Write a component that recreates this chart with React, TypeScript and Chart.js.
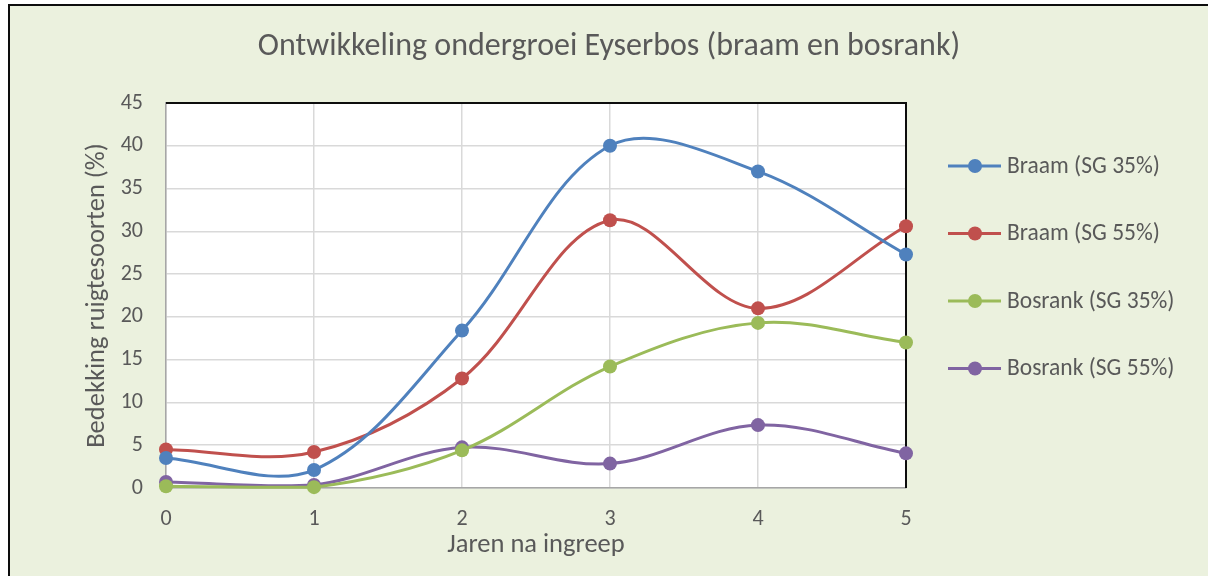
import React, { useEffect, useRef } from "react";
import { Chart, registerables } from "chart.js";

Chart.register(...registerables);

const years = [0, 1, 2, 3, 4, 5];
const seriesLabels = ["Braam (SG 35%)", "Braam (SG 55%)", "Bosrank (SG 35%)", "Bosrank (SG 55%)"];
const braam35 = [3.5, 2.1, 18.4, 40.0, 37.0, 27.3];
const braam55 = [4.5, 4.2, 12.8, 31.3, 21.0, 30.6];
const bosrank35 = [0.2, 0.1, 4.4, 14.2, 19.3, 17.0];
const bosrank55 = [0.7, 0.35, 4.75, 2.85, 7.35, 4.05];
const seriesColors = ["#4F81BD", "#C0504D", "#9BBB59", "#8064A2"];
const yTicks = [0, 5, 10, 15, 20, 25, 30, 35, 40, 45];

const FONT = "Calibri, Carlito, Lato, sans-serif";
const TEXT = "#595959";

const plotPlugin = {
  id: "plotDeco",
  beforeDraw(chart: any) {
    const { ctx, chartArea: a } = chart;
    ctx.save();
    ctx.fillStyle = "#FFFFFF";
    ctx.fillRect(a.left, a.top, a.right - a.left, a.bottom - a.top);
    ctx.restore();
  },
  beforeDatasetsDraw(chart: any) {
    const { ctx, chartArea: a } = chart;
    ctx.save();
    ctx.strokeStyle = "#0D0D0D";
    ctx.lineWidth = 2;
    ctx.beginPath();
    ctx.moveTo(a.left, a.top);
    ctx.lineTo(a.right, a.top);
    ctx.lineTo(a.right, a.bottom);
    ctx.stroke();
    ctx.restore();
  },
  afterDraw(chart: any) {
    const { ctx, chartArea: a } = chart;
    ctx.save();
    chart.data.datasets.forEach((ds: any, i: number) => {
      const y = a.top + 63 + i * 67.5;
      const x0 = a.right + 42;
      ctx.strokeStyle = ds.borderColor;
      ctx.lineWidth = 3;
      ctx.beginPath();
      ctx.moveTo(x0, y);
      ctx.lineTo(x0 + 53, y);
      ctx.stroke();
      ctx.fillStyle = ds.backgroundColor;
      ctx.beginPath();
      ctx.arc(x0 + 27, y, 7, 0, Math.PI * 2);
      ctx.fill();
      ctx.fillStyle = TEXT;
      ctx.font = `23.5px ${FONT}`;
      ctx.textBaseline = "middle";
      ctx.textAlign = "left";
      ctx.fillText(ds.label, x0 + 59, y + 1);
    });
    ctx.restore();
  },
};

export default function App() {
  const ref = useRef<HTMLCanvasElement | null>(null);
  useEffect(() => {
    if (!ref.current) return;
    const series = [braam35, braam55, bosrank35, bosrank55];
    const chart = new Chart(ref.current, {
      type: "line",
      data: {
        datasets: series.map((vals, i) => ({
          label: seriesLabels[i],
          data: vals.map((v, j) => ({ x: years[j], y: v })),
          borderColor: seriesColors[i],
          backgroundColor: seriesColors[i],
          pointBackgroundColor: seriesColors[i],
          pointBorderColor: seriesColors[i],
          pointRadius: 7,
          pointBorderWidth: 0,
          borderWidth: 3,
          tension: 0.35,
          clip: false as any,
        })),
      },
      options: {
        responsive: false,
        animation: false,
        devicePixelRatio: 1,
        layout: { padding: 0 },
        plugins: {
          legend: { display: false },
          tooltip: { enabled: false },
          title: {
            display: true,
            text: "Ontwikkeling ondergroei Eyserbos (braam en bosrank)",
            color: TEXT,
            font: { family: FONT, size: 32, weight: "normal" },
            padding: { top: 22, bottom: 36.6 },
          },
        },
        scales: {
          x: {
            type: "linear",
            min: 0,
            max: 5,
            afterBuildTicks: (s: any) => {
              s.ticks = years.map((v) => ({ value: v }));
            },
            afterFit: (s: any) => {
              s.height = 88;
            },
            grid: { color: "#D9D9D9", lineWidth: 1.5, drawTicks: false },
            border: { color: "#A6A6A6", width: 1.5 },
            ticks: { color: TEXT, font: { family: FONT, size: 22 }, padding: 18 },
            title: {
              display: true,
              text: "Jaren na ingreep",
              color: TEXT,
              font: { family: FONT, size: 26.5 },
              padding: { top: 0, bottom: 15 },
            },
          },
          y: {
            type: "linear",
            min: 0,
            max: 45,
            afterBuildTicks: (s: any) => {
              s.ticks = yTicks.map((v) => ({ value: v }));
            },
            afterFit: (s: any) => {
              s.width = 156;
            },
            grid: { color: "#D9D9D9", lineWidth: 1.5, drawTicks: false },
            border: { color: "#A6A6A6", width: 1.5 },
            ticks: { color: TEXT, font: { family: FONT, size: 22 }, padding: 23 },
            title: {
              display: true,
              text: "Bedekking ruigtesoorten (%)",
              color: TEXT,
              font: { family: FONT, size: 26.5 },
              padding: { top: 71.6, bottom: 0 },
            },
          },
          yR: {
            type: "linear",
            position: "right",
            display: true,
            afterFit: (s: any) => {
              s.width = 302;
            },
            grid: { display: false, drawTicks: false },
            border: { display: false },
            ticks: { display: false },
          },
        },
      },
      plugins: [plotPlugin],
    } as any);
    return () => chart.destroy();
  }, []);

  return (
    <div
      style={{
        position: "fixed",
        left: 8,
        top: 4,
        width: 1200,
        height: 572,
        boxSizing: "border-box",
        borderTop: "2px solid #0D0D0D",
        borderLeft: "2px solid #0D0D0D",
        background: "#EBF1DE",
      }}
    >
      <canvas ref={ref} width={1198} height={570} style={{ display: "block", width: 1198, height: 570 }} />
    </div>
  );
}
